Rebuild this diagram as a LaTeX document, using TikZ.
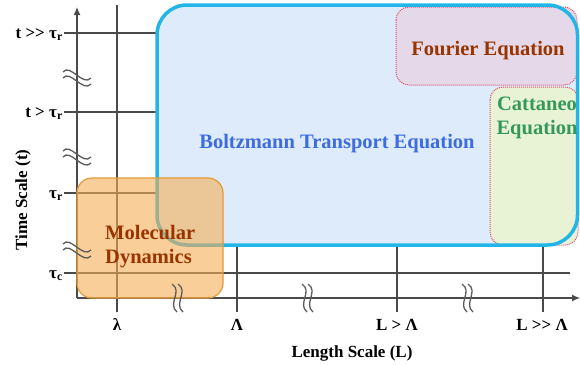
\documentclass[tikz,border=0pt]{standalone}
\usepackage{fontspec}
\setmainfont{Liberation Serif}[Ligatures=NoCommon]
\usetikzlibrary{arrows.meta}
\definecolor{gridc}{HTML}{4A4A4A}
\definecolor{bluedraw}{HTML}{22B5E8}
\definecolor{bluefill}{HTML}{DDEBFA}
\definecolor{fourfill}{HTML}{E5D8E8}
\definecolor{catfill}{HTML}{E7F3D4}
\definecolor{reddot}{HTML}{E0506A}
\definecolor{orangefill}{HTML}{F5AE55}
\definecolor{orangedraw}{HTML}{E39A38}
\definecolor{browntext}{HTML}{993300}
\definecolor{greentext}{HTML}{35985A}
\definecolor{bluetext}{HTML}{3D6BE0}
\tikzset{
  gridline/.style={draw=gridc, line width=1.1pt},
  axisline/.style={draw=gridc, line width=1.3pt, -{Latex[length=8pt,width=7pt]}},
  brk/.style={draw=gridc!90, line width=1.3pt},
  ticklbl/.style={font=\bfseries\fontsize{17}{20}\selectfont, text=black, inner sep=0pt},
  boxtext/.style={font=\bfseries\fontsize{20.5}{24}\selectfont, inner sep=0pt},
  eqbox/.style={draw=reddot, densely dotted, line width=1pt, rounded corners=13pt},
  pics/vbrk/.style={code={
    \draw[brk] (-14,-6) .. controls (-7,-15) and (6,9) .. (14,0);
    \draw[brk] (-14,0) .. controls (-7,-9) and (6,15) .. (14,6);
  }},
  pics/hbrk/.style={code={
    \draw[brk] (-6,-14) .. controls (5,-7) and (-11,6) .. (-1,14);
    \draw[brk] (0,-14) .. controls (11,-7) and (-5,6) .. (5,14);
  }}
}
\begin{document}
\begin{tikzpicture}[x=1pt,y=-1pt]
\useasboundingbox (0,0) rectangle (580,364);
% key coordinates
\coordinate (O) at (77,298);
\coordinate (ytop) at (77,7);
\coordinate (xend) at (580,298);
% horizontal grid lines
\coordinate (h1a) at (64,33);  \coordinate (h1b) at (157,33);
\coordinate (h2a) at (64,112); \coordinate (h2b) at (157,112);
\coordinate (h3a) at (64,193); \coordinate (h3b) at (157,193);
\coordinate (h4a) at (64,273); \coordinate (h4b) at (570,273);
\draw[gridline] (h1a) -- (h1b);
\draw[gridline] (h2a) -- (h2b);
\draw[gridline] (h3a) -- (h3b);
\draw[gridline] (h4a) -- (h4b);
% vertical grid lines
\coordinate (v1a) at (117,5);   \coordinate (v1b) at (117,312);
\coordinate (v2a) at (237,245); \coordinate (v2b) at (237,312);
\coordinate (v3a) at (397,245); \coordinate (v3b) at (397,312);
\coordinate (v4a) at (543,245); \coordinate (v4b) at (543,312);
\draw[gridline] (v1a) -- (v1b);
\draw[gridline] (v2a) -- (v2b);
\draw[gridline] (v3a) -- (v3b);
\draw[gridline] (v4a) -- (v4b);
% axes
\draw[axisline] (O) -- (ytop);
\draw[axisline] (O) -- (xend);
% Boltzmann box fill
\fill[bluefill, rounded corners=30pt] (157,5) rectangle (577.5,245);
% Fourier box
\draw[eqbox, fill=fourfill] (396,7) rectangle (577,85);
% Cattaneo box
\draw[eqbox, fill=catfill] (490,87) rectangle (578,245);
% Boltzmann box border
\draw[draw=bluedraw, line width=3.5pt, rounded corners=30pt] (157,5) rectangle (577.5,245);
% Molecular dynamics box
\draw[draw=orangedraw, fill=orangefill, fill opacity=0.6, line width=1.2pt, rounded corners=15pt] (77,178) rectangle (223,298);
% breaks
\pic at (77,78) {vbrk};
\pic at (77,157) {vbrk};
\pic at (77,250) {vbrk};
\pic at (178,298) {hbrk};
\pic at (308,298) {hbrk};
\pic at (468,298) {hbrk};
% box texts
\node[boxtext, text=bluetext, anchor=base] (bte) at (337,148) {Boltzmann Transport Equation};
\node[boxtext, text=browntext, anchor=base] (fe) at (488,55) {Fourier Equation};
\node[boxtext, text=greentext, anchor=base, align=center] (ce) at (537,134) {Cattaneo\\Equation};
\node[boxtext, text=browntext, anchor=base west, align=left] (md) at (105,263) {Molecular\\Dynamics};
% tick labels
\node[ticklbl, anchor=base east] (t1) at (63,38) {t >{}> τ\textsubscript{r}};
\node[ticklbl, anchor=base east] (t2) at (63,117) {t > τ\textsubscript{r}};
\node[ticklbl, anchor=base east] (t3) at (63,198) {τ\textsubscript{r}};
\node[ticklbl, anchor=base east] (t4) at (63,278) {τ\textsubscript{c}};
\node[ticklbl, anchor=base] (l1) at (117,330) {λ};
\node[ticklbl, anchor=base] (l2) at (237,330) {Λ};
\node[ticklbl, anchor=base] (l3) at (397,330) {L > Λ};
\node[ticklbl, anchor=base] (l4) at (542,330) {L >{}> Λ};
\node[ticklbl, anchor=base] (xl) at (352,357) {Length Scale (L)};
\node[ticklbl, rotate=90, anchor=base] (yl) at (27,200) {Time Scale (t)};
\end{tikzpicture}
\end{document}
